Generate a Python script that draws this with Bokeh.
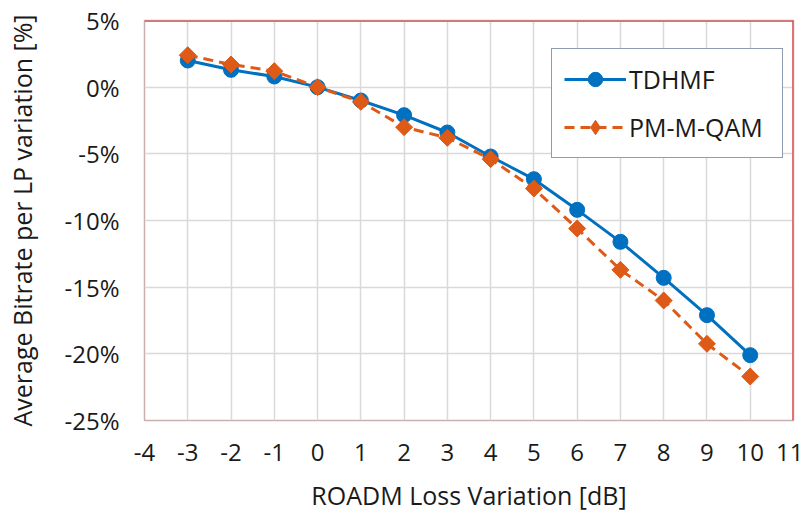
import numpy as np
from bokeh.plotting import figure
from bokeh.models import Span, FixedTicker, CustomJSTickFormatter, Range1d, Legend, LegendItem
from bokeh.embed import file_html
from bokeh.resources import INLINE

loss_db = [-3, -2, -1, 0, 1, 2, 3, 4, 5, 6, 7, 8, 9, 10]
tdhmf = [2.0, 1.3, 0.8, 0.0, -1.0, -2.1, -3.4, -5.2, -6.9, -9.2, -11.6, -14.3, -17.1, -20.1]
pm_mqam = [2.4, 1.7, 1.2, 0.0, -1.1, -3.0, -3.8, -5.4, -7.6, -10.6, -13.7, -16.0, -19.25, -21.7]
x_ticks = list(range(-4, 12))
y_ticks = [5, 0, -5, -10, -15, -20, -25]

BLUE = "#0070C0"
ORANGE = "#DE5A17"
FONT = "Open Sans"
TXT = "#1a1a1a"

p = figure(width=803, height=514, output_backend="svg", toolbar_location=None,
           x_range=Range1d(-4, 11), y_range=Range1d(-25, 5),
           min_border_left=144, min_border_right=10, min_border_top=20, min_border_bottom=92)

p.outline_line_color = "#C9AFAF"
p.outline_line_width = 1.5
p.background_fill_color = "white"
p.border_fill_color = "white"

for ax in (p.xaxis[0], p.yaxis[0]):
    ax.axis_line_color = None
    ax.major_tick_line_color = None
    ax.minor_tick_line_color = None
    ax.major_label_text_font = FONT
    ax.major_label_text_font_size = "24px"
    ax.major_label_text_color = TXT
    ax.axis_label_text_font = FONT
    ax.axis_label_text_font_style = "normal"
    ax.axis_label_text_color = TXT
    ax.axis_label_text_font_size = "25px"

p.xaxis.ticker = FixedTicker(ticks=x_ticks)
p.yaxis.ticker = FixedTicker(ticks=y_ticks)
p.xaxis.formatter = CustomJSTickFormatter(code="return tick.toString();")
p.yaxis.formatter = CustomJSTickFormatter(code="return tick.toString() + '%';")
p.xaxis.major_label_standoff = 17
p.yaxis.major_label_standoff = 19
p.xaxis.axis_label = "ROADM Loss Variation [dB]"
p.yaxis.axis_label = "Average Bitrate per LP variation [%]"
p.xaxis.axis_label_standoff = 14
p.yaxis.axis_label_standoff = 22

p.xgrid.grid_line_color = "#D9D9D9"
p.ygrid.grid_line_color = "#D9D9D9"
p.xgrid.grid_line_width = 1.5
p.ygrid.grid_line_width = 1.5

# red top & right border
p.add_layout(Span(location=5, dimension="width", line_color="#D94A4A", line_width=2.5))
p.add_layout(Span(location=11, dimension="height", line_color="#D94A4A", line_width=2.5))

l1 = p.line(loss_db, tdhmf, line_color=BLUE, line_width=3)
s1 = p.scatter(loss_db, tdhmf, marker="circle", size=15, fill_color=BLUE, line_color=BLUE)
l2 = p.line(loss_db, pm_mqam, line_color=ORANGE, line_width=3, line_dash="10 6")
s2 = p.scatter(loss_db, pm_mqam, marker="square", angle=np.pi / 4, size=12,
               fill_color=ORANGE, line_color=ORANGE)
# diamond drawn inside the rotated squares, used for the legend glyph
s2_leg = p.scatter(loss_db, pm_mqam, marker="diamond", size=15, fill_color=ORANGE, line_color=ORANGE)

legend = Legend(items=[LegendItem(label="TDHMF", renderers=[l1, s1]),
                       LegendItem(label="PM-M-QAM", renderers=[l2, s2_leg])],
                location=(407, 262))
legend.label_text_font = FONT
legend.label_text_font_size = "25px"
legend.label_text_color = TXT
legend.glyph_width = 62
legend.glyph_height = 36
legend.label_standoff = 3
legend.label_width = 141
legend.padding = 12
legend.spacing = 12
legend.margin = 0
legend.border_line_color = "#1F3864"
legend.border_line_width = 1.5
legend.background_fill_alpha = 1.0
p.add_layout(legend)

open("out.html", "w").write(file_html(p, INLINE))
